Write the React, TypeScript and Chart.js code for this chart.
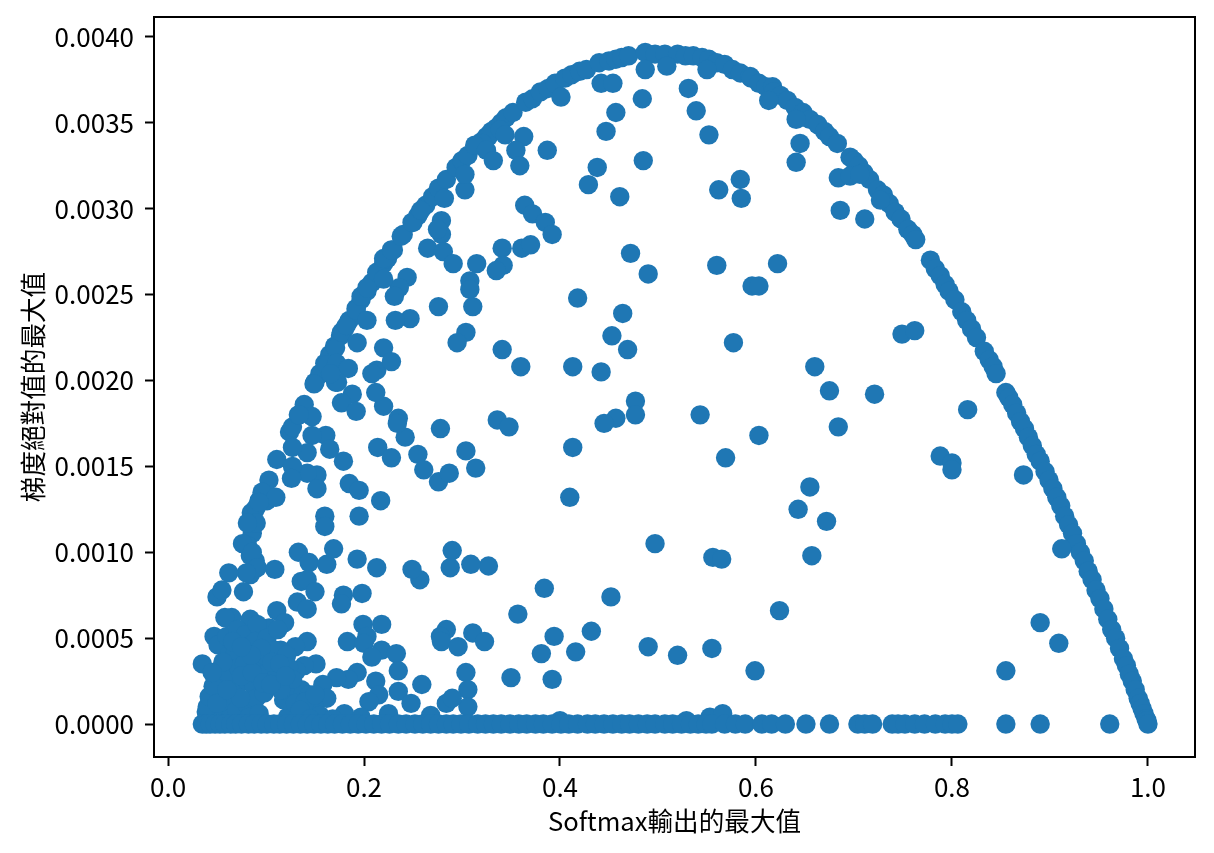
import React, { useEffect, useRef } from "react";
import { Chart, registerables } from "chart.js";

Chart.register(...registerables);

type P = [number, number];

const xAxisTicks = [0, 0.2, 0.4, 0.6, 0.8, 1.0];
const yAxisTicks = [0, 0.0005, 0.001, 0.0015, 0.002, 0.0025, 0.003, 0.0035, 0.004];
const xTitle = "Softmax輸出的最大值";
const yTitle = "梯度絕對值的最大值";

const ridgeLeft: P[] = [
  [.050,.00074],[.055,.00078],[.088,.00124],[.093,.00130],[.098,.00135],[.103,.00142],[.111,.00154],[.124,.00170],[.127,.00173],[.133,.00180],[.139,.00186],
  [.150,.00199],[.155,.00204],[.160,.00210],[.165,.00215],[.170,.00220],[.176,.00226],[.180,.00230],[.185,.00235],[.192,.00242],[.197,.00247],
  [.203,.00252],[.208,.00257],[.215,.00263],[.220,.00268],[.224,.00271],[.230,.00276],[.240,.00285],[.250,.00292],[.255,.00296],[.263,.00302],
  [.270,.00307],[.276,.00312],[.284,.00317],[.294,.00324],[.300,.00328],[.306,.00331],[.315,.00337],[.320,.00339],[.325,.00342],[.330,.00345],
  [.335,.00347],[.340,.00350],[.345,.00353],[.352,.00356],[.365,.00362],[.372,.00364],[.380,.00368],[.388,.00370],[.395,.00373],[.405,.00376],
  [.412,.00378],[.420,.00380],[.427,.00381],[.440,.00385],[.450,.00386],[.457,.00387],[.463,.00388],[.470,.00389],[.487,.00391],[.497,.00390],
];

const ridgeLeftInner: P[] = [
  [.085,.00123],[.090,.00126],[.086,.00111],[.081,.00104],[.089,.00095],[.084,.00098],[.084,.00087],[.171,.00219],[.177,.00228],[.182,.00232],
  [.192,.00241],[.197,.00249],[.203,.00254],[.213,.00263],[.220,.00271],[.228,.00276],[.238,.00284],[.249,.00292],[.258,.00299],[.156,.00204],
  [.162,.00209],[.149,.00198],[.171,.00199],[.172,.00210],[.327,.00342],[.339,.00346],[.321,.00338],[.313,.00337],[.325,.00334],[.344,.00343],
];

const ridgeRight: P[] = [
  [.507,.00390],[.520,.00390],[.528,.00389],[.536,.00389],[.545,.00388],[.552,.00387],[.560,.00385],[.568,.00384],[.576,.00381],[.584,.00379],
  [.594,.00377],[.595,.00376],[.603,.00373],[.610,.00371],[.617,.00371],[.618,.00368],[.625,.00366],[.632,.00363],[.640,.00359],[.648,.00356],[.655,.00352],[.663,.00349],
  [.670,.00345],[.675,.00342],[.683,.00338],[.696,.00330],[.700,.00328],[.705,.00325],[.710,.00321],[.716,.00317],[.724,.00311],[.730,.00308],
  [.736,.00303],[.742,.00298],[.748,.00294],[.755,.00288],[.760,.00285],[.763,.00282],[.778,.00270],[.783,.00265],[.788,.00261],[.793,.00256],
  [.797,.00252],[.803,.00247],[.810,.00240],[.815,.00235],[.820,.00230],[.825,.00225],[.833,.00217],[.838,.00212],[.842,.00208],[.845,.00204],
  [.855,.00193],[.858,.00190],[.862,.00186],[.866,.00181],[.870,.00176],[.874,.00172],[.878,.00167],[.882,.00162],[.886,.00157],[.890,.00153],
  [.895,.00147],[.899,.00142],[.903,.00137],[.907,.00132],[.911,.00127],[.915,.00121],[.919,.00116],[.923,.00111],[.927,.00105],[.931,.00100],
  [.935,.00095],[.939,.00089],[.943,.00084],[.947,.00078],[.951,.00073],[.955,.00067],[.959,.00061],[.963,.00055],[.967,.00050],[.971,.00044],
  [.975,.00038],[.978,.00034],[.981,.00029],[.984,.00025],[.987,.00020],[.990,.00015],[.992,.00012],[.994,.00009],[.996,.00006],[.998,.00003],
  [.999,.00002],[1.0,.00000],
];

const upperInner: P[] = [
  [.487,.00381],[.509,.00383],[.550,.00381],[.613,.00363],[.641,.00352],[.645,.00338],[.641,.00327],[.531,.00370],[.539,.00357],[.552,.00343],
  [.484,.00364],[.442,.00373],[.454,.00373],[.457,.00356],[.447,.00345],[.438,.00324],[.429,.00314],[.461,.00307],[.485,.00328],[.562,.00311],
  [.584,.00317],[.585,.00306],[.401,.00365],[.363,.00342],[.355,.00334],[.359,.00325],[.387,.00334],[.332,.00328],[.303,.00311],[.303,.00320],
  [.282,.00306],[.279,.00293],[.279,.00285],[.275,.00288],[.265,.00277],[.281,.00275],[.291,.00268],[.315,.00268],[.341,.00277],[.342,.00267],
  [.335,.00264],[.361,.00277],[.370,.00279],[.364,.00302],[.372,.00297],[.385,.00292],[.392,.00285],[.472,.00274],[.490,.00262],[.560,.00267],
  [.596,.00255],[.603,.00255],[.622,.00268],[.308,.00258],[.308,.00253],[.311,.00243],[.276,.00243],[.247,.00236],[.232,.00235],[.244,.00260],
  [.236,.00254],[.231,.00249],[.220,.00259],[.418,.00248],[.464,.00239],[.684,.00318],[.686,.00299],[.711,.00294],[.696,.00319],[.706,.00320],[.727,.00305],
];

const middleRight: P[] = [
  [.453,.00226],[.469,.00218],[.442,.00205],[.413,.00208],[.577,.00222],[.749,.00227],[.762,.00229],[.360,.00208],[.341,.00218],[.304,.00228],
  [.295,.00222],[.660,.00208],[.675,.00194],[.684,.00173],[.721,.00192],[.816,.00183],[.788,.00156],[.800,.00152],[.800,.00148],[.873,.00145],
  [.912,.00102],[.603,.00168],[.569,.00155],[.543,.00180],[.477,.00188],[.477,.00180],[.457,.00178],[.445,.00175],[.413,.00161],[.410,.00132],
  [.655,.00138],[.643,.00125],[.672,.00118],[.657,.00098],[.556,.00097],[.565,.00096],[.497,.00105],[.624,.00066],[.452,.00074],[.490,.00045],
  [.520,.00040],[.555,.00044],[.599,.00031],[.890,.00059],[.909,.00047],[.855,.00031],[.432,.00054],[.416,.00042],[.394,.00051],[.381,.00041],
  [.392,.00026],[.384,.00079],[.357,.00064],[.350,.00027],[.327,.00092],[.309,.00093],[.288,.00091],[.290,.00101],[.284,.00055],[.278,.00051],
  [.279,.00048],[.296,.00045],[.311,.00053],[.323,.00048],[.304,.00030],[.306,.00020],[.306,.00010],[.257,.00084],[.249,.00090],
  [.553,.00004],[.566,.00006],[.529,.00002],[.400,.00002],
];

const middleLeft: P[] = [
  [.336,.00177],[.348,.00173],[.278,.00172],[.304,.00159],[.314,.00149],[.276,.00141],[.287,.00146],[.255,.00157],[.261,.00148],[.242,.00167],
  [.235,.00178],[.234,.00175],[.214,.00161],[.228,.00155],[.220,.00185],[.212,.00193],[.213,.00206],[.208,.00204],[.220,.00219],[.228,.00211],
  [.203,.00235],[.193,.00222],[.184,.00207],[.188,.00192],[.177,.00187],[.192,.00182],[.173,.00199],[.166,.00204],[.179,.00153],[.161,.00168],
  [.147,.00168],[.165,.00160],[.142,.00158],[.152,.00145],[.142,.00146],[.127,.00150],[.126,.00143],[.152,.00137],[.185,.00140],[.195,.00136],
  [.217,.00130],[.160,.00121],[.160,.00115],[.195,.00121],[.147,.00179],[.134,.00180],[.127,.00161],
];

const lowerLeft: P[] = [
  [.101,.00130],[.096,.00135],[.110,.00132],[.093,.00129],[.090,.00117],[.081,.00117],[.076,.00105],[.086,.00100],[.091,.00091],[.080,.00088],
  [.062,.00088],[.077,.00077],[.109,.00090],[.133,.00100],[.144,.00094],[.162,.00093],[.169,.00102],[.193,.00096],[.213,.00091],[.136,.00083],
  [.142,.00084],[.150,.00077],[.179,.00075],[.177,.00070],[.198,.00076],[.132,.00071],[.142,.00067],[.111,.00066],[.119,.00059],[.199,.00058],
  [.218,.00058],[.203,.00051],[.183,.00048],[.200,.00047],[.142,.00048],[.130,.00045],[.218,.00043],[.208,.00039],[.233,.00041],[.235,.00031],
  [.193,.00030],[.184,.00026],[.172,.00027],[.212,.00025],[.215,.00017],[.205,.00013],[.235,.00019],[.259,.00023],[.248,.00012],[.268,.00005],
  [.284,.00012],[.290,.00015],[.151,.00035],[.139,.00034],[.131,.00031],[.158,.00023],[.162,.00015],[.180,.00006],[.197,.00004],[.132,.00016],
  [.126,.00014],[.127,.00009],[.149,.00010],[.136,.00020],[.115,.00043],[.103,.00056],[.084,.00061],[.065,.00062],[.058,.00062],[.047,.00051],
  [.055,.00047],[.035,.00035],[.049,.00020],[.039,.00007],[.140,.00006],[.144,.00017],[.122,.00004],[.155,.00005],[.168,.00003],[.225,.00006],
];

const denseBlob: P[] = [
  [.044,.00012],[.048,.00007],[.051,.00046],[.050,.00030],[.053,.00015],[.052,.00005],[.060,.00051],[.062,.00040],[.059,.00027],[.061,.00012],
  [.063,.00003],[.071,.00055],[.069,.00042],[.072,.00033],[.068,.00020],[.070,.00008],[.079,.00052],[.082,.00045],[.078,.00035],[.081,.00025],
  [.080,.00012],[.083,.00004],[.091,.00058],[.089,.00048],[.092,.00036],[.088,.00022],[.090,.00015],[.093,.00006],[.101,.00050],[.099,.00040],
  [.102,.00030],[.098,.00018],[.112,.00055],[.109,.00043],[.111,.00028],[.118,.00014],[.121,.00040],[.123,.00033],[.119,.00020],[.066,.00048],
  [.075,.00028],[.086,.00030],[.095,.00044],[.106,.00036],[.114,.00035],[.056,.00036],[.074,.00015],[.085,.00040],[.097,.00024],[.127,.00026],
  [.040,.00010],[.042,.00016],[.046,.00022],[.050,.00012],[.115,.00020],[.105,.00023],[.120,.00028],[.060,.00020],[.045,.00030],[.075,.00045],
  [.130,.00012],[.140,.00013],[.135,.00008],[.150,.00017],[.145,.00003],
];

const floorX: number[] = [
  .035,.039,.043,.048,.053,.058,.064,.069,.075,.082,.088,.095,.101,.108,.114,.121,.128,.135,.142,.149,.156,.163,.170,.178,.186,.194,.202,.210,
  .218,.226,.235,.243,.252,.260,.268,.276,.284,.291,.299,.307,.316,.324,.332,.340,.349,.358,.366,.375,.383,.392,.401,.409,.418,.428,.436,.445,
  .454,.463,.471,.480,.489,.497,.507,.515,.524,.533,.541,.549,.555,.568,.579,.589,.606,.616,.630,.651,.675,.704,.711,.719,.739,.745,.752,.762,
  .772,.783,.793,.800,.806,.855,.890,.961,
];
const floorY: number[] = floorX.map(() => 0);

const clusters: P[][] = [ridgeLeft, ridgeLeftInner, ridgeRight, upperInner, middleRight, middleLeft, lowerLeft, denseBlob];

export default function App() {
  const ref = useRef<HTMLCanvasElement>(null);
  useEffect(() => {
    document.body.style.margin = "0";
    const points = clusters
      .flat()
      .map(([x, y]) => ({ x, y }))
      .concat(floorX.map((x, i) => ({ x, y: floorY[i] })));
    const tickFont = { family: "'Noto Sans CJK TC'", size: 26, lineHeight: 1 };
    const titleFont = { family: "'Noto Sans CJK TC'", size: 25.6, lineHeight: 1 };
    const frame = {
      id: "frame",
      afterDatasetsDraw(chart: any) {
        const { left, top, right, bottom } = chart.chartArea;
        const c = chart.ctx;
        c.save();
        c.strokeStyle = "#000";
        c.lineWidth = 2;
        c.strokeRect(left, top, right - left, bottom - top);
        c.restore();
      },
    };
    const chart = new Chart(ref.current as HTMLCanvasElement, {
      type: "scatter",
      data: {
        datasets: [
          {
            data: points,
            backgroundColor: "#1f77b4",
            borderWidth: 0,
            pointRadius: 9.7,
            pointHoverRadius: 9.7,
          },
        ],
      },
      plugins: [frame],
      options: {
        animation: false,
        responsive: false,
        layout: { padding: { top: 17, right: 19, left: 0, bottom: 0 } },
        plugins: { legend: { display: false }, tooltip: { enabled: false } },
        scales: {
          x: {
            type: "linear",
            min: -0.0143,
            max: 1.048,
            afterBuildTicks: (s: any) => {
              s.ticks = xAxisTicks.map((value) => ({ value }));
            },
            afterFit: (s: any) => {
              s.height = 96;
              s.paddingLeft = 0;
              s.paddingRight = 0;
            },
            grid: { drawOnChartArea: false, drawTicks: true, tickLength: 9, tickColor: "#000", tickWidth: 2 },
            border: { color: "#000", width: 2 },
            ticks: {
              color: "#000",
              font: tickFont,
              padding: 8,
              maxRotation: 0,
              autoSkip: false,
              callback: (v: any) => Number(v).toFixed(1),
            },
            title: { display: true, text: xTitle, color: "#000", font: titleFont, padding: { top: 0, bottom: 19 } },
          },
          y: {
            type: "linear",
            min: -0.000192,
            max: 0.004116,
            afterBuildTicks: (s: any) => {
              s.ticks = yAxisTicks.map((value) => ({ value }));
            },
            afterFit: (s: any) => {
              s.width = 154;
              s.paddingTop = 0;
              s.paddingBottom = 0;
            },
            grid: { drawOnChartArea: false, drawTicks: true, tickLength: 9, tickColor: "#000", tickWidth: 2 },
            border: { color: "#000", width: 2 },
            ticks: {
              color: "#000",
              font: tickFont,
              padding: 11,
              autoSkip: false,
              callback: (v: any) => Number(v).toFixed(4),
            },
            title: { display: true, text: yTitle, color: "#000", font: titleFont, padding: { top: 20, bottom: 0 } },
          },
        },
      },
    } as any);
    return () => chart.destroy();
  }, []);
  return (
    <div style={{ width: 1214, height: 853 }}>
      <canvas ref={ref} width={1214} height={853} style={{ display: "block" }} />
    </div>
  );
}
